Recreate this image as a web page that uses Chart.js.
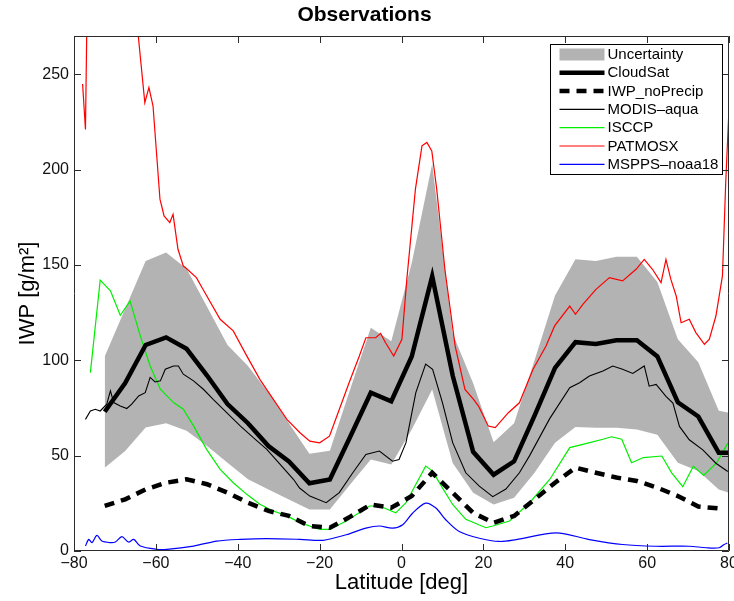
<!DOCTYPE html>
<html>
<head>
<meta charset="utf-8">
<script src="https://cdn.jsdelivr.net/npm/chart.js@4/dist/chart.umd.min.js"></script>
<style>
html,body{margin:0;padding:0;background:#fff;}
#wrap{width:734px;height:601px;}
</style>
</head>
<body>
<div id="wrap"><canvas id="c" width="734" height="601"></canvas></div>
<script>
// ---------- data ----------
const xTicks = [-80, -60, -40, -20, 0, 20, 40, 60, 80];
const yTicks = [0, 50, 100, 150, 200, 250];

const seriesLabels = ['Uncertainty', 'CloudSat', 'IWP_noPrecip', 'MODIS\u2013aqua', 'ISCCP', 'PATMOSX', 'MSPPS\u2013noaa18'];

// CloudSat / uncertainty / no-precip grid
const gridLat = [-72.5,-67.5,-62.5,-57.5,-52.5,-47.5,-42.5,-37.5,-32.5,-27.5,-22.5,-17.5,-12.5,-7.5,-2.5,2.5,7.5,12.5,17.5,22.5,27.5,32.5,37.5,42.5,47.5,52.5,57.5,62.5,67.5,72.5,77.5,80];
const cloudsat = [73,88,108,112,106,92,77,67,55,47,35.5,37.5,60,83,78.5,102,144,92,52,40,47,71,96,109.5,108.5,110.5,110.5,102,78,70.5,51.5,51.5];
const uncUpper = [102,127,152,156.5,148,128,108,97,83,67,51,52.5,85,117,110,151,203,114,88,57,67,100,134,153,152,154.3,154.3,141,111,99,73.5,72.5];
const uncLower = [43.7,52.4,64.7,67,63,55,46.3,37.6,32.3,27,21.7,21.7,35,48,45.4,63.7,84.7,46.2,30.6,24.4,27.9,41,56.8,65,64.6,64.6,63.7,61,46.3,41.9,32.3,30.5];
const noPrecipLat = [-72.5,-67.5,-62.5,-57.5,-52.5,-47.5,-42.5,-37.5,-32.5,-27.5,-22.5,-17.5,-12.5,-7.5,-2.5,2.5,7.5,12.5,17.5,22.5,27.5,32.5,37.5,42.5,47.5,52.5,57.5,62.5,67.5,72.5,77.5];
const noPrecip = [23.6,27.1,32.3,35.8,37.6,35,30.6,25.3,21,18.4,13.1,12.2,18,24.4,22.7,28.8,41,30.6,20,14.8,18.4,27,35.8,43.7,41,38.5,36.7,33.2,28.8,23.3,22.3];

// MODIS-aqua
const modisLat = [-77.2,-76,-74.8,-73.6,-72,-71.1,-70.3,-68.7,-67.1,-65.9,-64.2,-62.6,-61.4,-60.2,-58.9,-57.7,-55.7,-54.5,-53.3,-50.8,-48.4,-46,-42.7,-39.4,-36.2,-32.9,-29.7,-26.4,-24.9,-22.4,-18.4,-15.2,-11.9,-8.7,-5.4,-2.2,-0.6,1.1,3.5,5.9,7.6,10,12.5,15.7,19,22.3,25.5,28.8,31.3,36.2,41.1,43.5,45.9,49.2,51.6,54,56.5,59.3,60.5,62.2,64.6,66.3,67.9,70.3,73.6,76.8,79.7];
const modis = [69,73.4,74.3,73.4,77,84,77.8,76,74.7,77,81.3,83,91,88.6,89.2,95.3,97,97,92.7,89.2,84.8,79.5,72.6,65.6,59.4,53.3,45.5,37.6,33,28.8,25.3,30.6,41,50.6,52.4,47.1,48,56.8,83,98,95.3,77.8,56.8,41,34,28.5,32.5,41,50,69.4,85.6,88.2,91.7,94.4,97,95.3,93.1,97,86.4,87.3,81.1,77.6,65.3,58.3,53,46,41.7];

// ISCCP
const isccpLat = [-76,-73.6,-71.1,-68.7,-66.3,-63.8,-61.4,-58.9,-55.7,-53.3,-50.8,-47.6,-44.3,-41.1,-37.8,-34.6,-31.3,-28,-24.8,-20,-17.6,-13.5,-7.8,-5.4,-1.4,1.1,5.9,7.6,10,12.5,15.7,20.6,22.3,26.4,31.3,36.2,41.1,46,49.2,51.3,53.8,56.2,59.1,63.6,66,68.7,71.3,73.8,77,79.8];
const isccp = [93.5,142,136.4,123.6,131,112.8,97,84.8,77.8,74.3,65.6,53.3,42.8,35.8,29.7,24.5,21,18.4,14.9,11.3,11.3,15.7,23.6,23.6,20,25.3,44.5,41.9,33.1,24.4,16.6,12.2,13.1,15.7,25.3,37.5,54.2,56.8,58.6,59.9,58.6,46.3,49,49.8,41,33.7,44.5,39.6,46.3,56.8];

// PATMOSX (goes above the top of the axes near -77..-64)
const patmosLat = [-77.9,-77.2,-76.9,-76.6,-64.6,-64.3,-62.7,-61.7,-60.7,-59,-58.6,-58,-56.6,-55.8,-54.6,-53.3,-52.8,-50.1,-48.5,-44.3,-41.1,-37.8,-34.6,-31.3,-28,-24.8,-22.4,-20,-17.6,-15.2,-12.8,-10.3,-8.7,-6.3,-5.1,-3.9,-1.9,0.1,1.3,3.4,5,6.2,7.4,8.6,10.6,13.1,15.5,17.6,18.8,21.2,22.9,26.1,28.8,32.1,35.3,37.4,41.1,42.5,44.3,47.5,50.8,54,57.3,59.3,61.3,63.4,64.6,65.8,67.1,68.3,70.3,71.9,74,75.2,76.8,78.4,79.2,80];
const patmos = [244.8,221,270,300,300,270,235,243,233.4,184.4,181,175.7,172.2,176.5,158.2,149.4,148.6,143.3,137.2,121.5,115.4,102.3,90,79.5,69,62,57.6,56.7,60.2,74.2,88.2,102.2,111.8,111.8,114.1,109.2,102.2,111,142.4,189.7,212.4,214.2,209.8,189.7,147.7,107.5,84.7,79.5,76,65.5,64.7,72.5,77.7,95.2,107.5,118,128.4,124.1,129.3,137.2,143.3,141.6,147.7,152.9,147.7,140.7,152.9,142.4,133.7,119.7,121.5,114.5,108.4,111,123.2,144.2,193.2,232];

// MSPPS-noaa18
const msppsLat = [-77.2,-76.4,-75.6,-74.4,-73.2,-71.1,-69.9,-68.3,-66.7,-65.4,-63.8,-59.8,-57.3,-50.8,-45.1,-39.4,-32.9,-24.8,-19.2,-13.5,-8.7,-5.4,-2.2,0.3,2.7,5.9,8.4,10.8,14.1,19,23.9,28,37.8,45.9,54,62.1,70.3,74.4,77.6,78.8,79.6];
const mspps = [2.6,6.1,4.4,8.2,5.2,4.4,4.7,7.5,4.7,6.1,2.6,0.9,0.9,2.6,5.2,6.1,6.5,6.1,5.6,8.5,12,13.1,12,13.8,19.8,25.1,22.5,16.4,10.2,6.7,5,6,9.5,6,3.4,2.5,2.5,1.7,1.7,3.4,4.2];

// ---------- helpers ----------
const pts = (xs, ys) => xs.map((x, i) => ({x: x, y: ys[i]}));
const FONT = "'Liberation Sans', Arial, Helvetica, sans-serif";

const GRAY = '#b3b3b3';

const datasets = [
  {label: 'band-lower', data: pts(gridLat, uncLower), borderWidth: 0, borderColor: 'rgba(0,0,0,0)', pointRadius: 0, fill: false, order: 20},
  {label: seriesLabels[0], data: pts(gridLat, uncUpper), borderWidth: 0, borderColor: 'rgba(0,0,0,0)', backgroundColor: GRAY, pointRadius: 0, fill: '-1', order: 19, legendKind: 'box'},
  {label: seriesLabels[5], data: pts(patmosLat, patmos), borderColor: '#ff0000', borderWidth: 1.2, pointRadius: 0, fill: false, order: 8},
  {label: seriesLabels[4], data: pts(isccpLat, isccp), borderColor: '#00ee00', borderWidth: 1.2, pointRadius: 0, fill: false, order: 7},
  {label: seriesLabels[6], data: pts(msppsLat, mspps), borderColor: '#0000ff', borderWidth: 1.2, pointRadius: 0, fill: false, order: 6, tension: 0.3},
  {label: seriesLabels[3], data: pts(modisLat, modis), borderColor: '#000000', borderWidth: 1.1, pointRadius: 0, fill: false, order: 5},
  {label: seriesLabels[2], data: pts(noPrecipLat, noPrecip), borderColor: '#000000', borderWidth: 4.5, borderDash: [10, 7], borderCapStyle: 'butt', pointRadius: 0, fill: false, order: 4},
  {label: seriesLabels[1], data: pts(gridLat, cloudsat), borderColor: '#000000', borderWidth: 4.5, borderJoinStyle: 'miter', pointRadius: 0, fill: false, order: 3}
];

const legendOrder = seriesLabels.slice();

// ---------- plugins ----------
const boxTicks = {
  id: 'boxTicks',
  afterDatasetsDraw(chart) {
    const {ctx, chartArea: a, scales: {x, y}} = chart;
    const L = 7;
    ctx.save();
    ctx.strokeStyle = '#2b2b2b';
    ctx.lineWidth = 1;
    ctx.beginPath();
    ctx.rect(Math.round(a.left) + 0.5, Math.round(a.top) + 0.5, Math.round(a.right - a.left) - 1, Math.round(a.bottom - a.top) - 1);
    ctx.stroke();
    ctx.beginPath();
    xTicks.forEach(v => {
      const px = Math.round(x.getPixelForValue(v)) + 0.5;
      ctx.moveTo(px, a.bottom); ctx.lineTo(px, a.bottom - L);
      ctx.moveTo(px, a.top); ctx.lineTo(px, a.top + L);
    });
    yTicks.forEach(v => {
      const py = Math.round(y.getPixelForValue(v)) + 0.5;
      ctx.moveTo(a.left, py); ctx.lineTo(a.left + L, py);
      ctx.moveTo(a.right, py); ctx.lineTo(a.right - L, py);
    });
    ctx.stroke();
    ctx.restore();
  }
};

const boxLegend = {
  id: 'boxLegend',
  afterDraw(chart) {
    const {ctx, chartArea: a} = chart;
    const w = 172, h = 130;
    const bx = Math.round(a.right - 179) + 0.5, by = Math.round(a.top + 8) + 0.5;
    ctx.save();
    ctx.fillStyle = '#ffffff';
    ctx.fillRect(bx, by, w, h);
    ctx.strokeStyle = '#000000';
    ctx.lineWidth = 1;
    ctx.strokeRect(bx, by, w, h);
    ctx.font = '15px ' + FONT;
    ctx.textBaseline = 'middle';
    ctx.textAlign = 'left';
    const step = 18.3;
    legendOrder.forEach((lab, i) => {
      const ds = chart.data.datasets.find(d => d.label === lab);
      const cy = by + 10 + i * step;
      const x0 = bx + 9, x1 = bx + 54;
      if (ds.legendKind === 'box') {
        ctx.fillStyle = ds.backgroundColor;
        ctx.fillRect(x0, cy - 6, x1 - x0, 12);
      } else {
        ctx.save();
        ctx.strokeStyle = ds.borderColor;
        ctx.lineWidth = ds.borderWidth;
        ctx.setLineDash(ds.borderDash || []);
        ctx.beginPath();
        ctx.moveTo(x0, cy); ctx.lineTo(x1, cy);
        ctx.stroke();
        ctx.restore();
      }
      ctx.fillStyle = '#000';
      ctx.fillText(lab, bx + 57, cy + 0.5);
    });
    ctx.restore();
  }
};

const fmt = v => (v < 0 ? '\u2212' + Math.abs(v) : String(v));

new Chart(document.getElementById('c'), {
  type: 'line',
  data: {datasets: datasets},
  options: {
    responsive: false,
    animation: false,
    devicePixelRatio: 1,
    events: [],
    layout: {padding: {left: 0, right: 5, top: 0, bottom: 0}},
    elements: {line: {tension: 0}},
    plugins: {
      legend: {display: false},
      tooltip: {enabled: false},
      title: {
        display: true,
        text: 'Observations',
        color: '#000',
        font: {family: FONT, size: 21, weight: 'bold', lineHeight: 1.2},
        padding: {top: 3, bottom: 7.8}
      }
    },
    scales: {
      x: {
        type: 'linear',
        min: -80, max: 80,
        afterBuildTicks: s => { s.ticks = xTicks.map(v => ({value: v})); },
        afterFit: s => { s.height = 50; s.paddingLeft = 0; s.paddingRight = 0; },
        grid: {display: false, drawTicks: false},
        border: {display: false},
        ticks: {color: '#111', font: {family: FONT, size: 16}, padding: 3, maxRotation: 0, autoSkip: false, callback: v => fmt(v)},
        title: {display: true, text: 'Latitude [deg]', color: '#000', font: {family: FONT, size: 22, lineHeight: 1.2}, padding: {top: 0, bottom: 5}}
      },
      y: {
        type: 'linear',
        min: 0, max: 270,
        afterBuildTicks: s => { s.ticks = yTicks.map(v => ({value: v})); },
        afterFit: s => { s.width = 74; s.paddingTop = 0; s.paddingBottom = 0; },
        grid: {display: false, drawTicks: false},
        border: {display: false},
        ticks: {color: '#111', font: {family: FONT, size: 16}, padding: 5, callback: v => fmt(v)},
        title: {display: true, text: 'IWP [g/m\u00B2]', color: '#000', font: {family: FONT, size: 22, lineHeight: 1.2}, padding: {top: 15, bottom: 0}}
      }
    }
  },
  plugins: [boxTicks, boxLegend]
});
</script>
</body>
</html>
